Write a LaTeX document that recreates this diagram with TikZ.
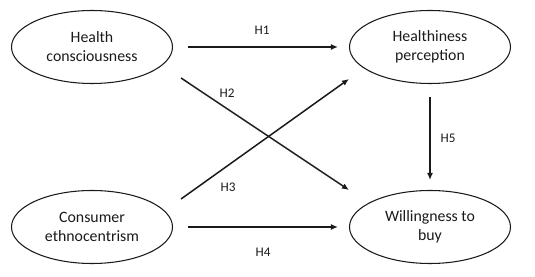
\documentclass[tikz,border=0pt]{standalone}
\usepackage{fontspec}
\setmainfont{Carlito}
\usetikzlibrary{shapes.geometric,arrows.meta}
\definecolor{ink}{HTML}{1A1A1A}
\tikzset{
  construct/.style={draw=ink, line width=.6pt, ellipse, minimum width=3.22cm, minimum height=1.46cm, inner sep=0pt, align=center, font=\fontsize{9}{10.8}\selectfont, text=ink},
  hyp/.style      ={draw=ink, line width=.85pt, -{Latex[length=1.4mm,width=1.2mm]}},
  hlbl/.style     ={font=\fontsize{7.5}{9}\selectfont, text=ink, inner sep=0pt},
}
\begin{document}
\begin{tikzpicture}
    \useasboundingbox (0,0) rectangle (10.7,5.54);
    % constructs
    \node[construct] (hc) at (1.84,4.6) {Health\\consciousness};
    \node[construct] (hp) at (8.6,4.6)  {Healthiness\\perception};
    \node[construct] (ce) at (1.84,1.0) {Consumer\\ethnocentrism};
    \node[construct] (wb) at (8.6,1.0)  {Willingness to\\buy};
    % hypotheses
    \draw[hyp,shorten <=3mm,shorten >=2.2mm] (hc) -- (hp);
    \draw[hyp] ([xshift=1.6mm,yshift=-6.2mm]hc.east) -- ([yshift=7.4mm]wb.west);
    \draw[hyp] ([xshift=1.6mm,yshift=5.6mm]ce.east) -- ([yshift=-6.4mm]hp.west);
    \draw[hyp,shorten <=3mm,shorten >=2.2mm] (ce) -- (wb);
    \draw[hyp,shorten <=2.6mm,shorten >=2mm] (hp) -- (wb);
    \node[hlbl] (h1) at (5.24,4.94) {H1};
    \node[hlbl] (h2) at (4.54,3.68) {H2};
    \node[hlbl] (h3) at (4.56,1.80) {H3};
    \node[hlbl] (h4) at (5.26,0.50) {H4};
    \node[hlbl] (h5) at (8.96,2.78) {H5};
\end{tikzpicture}
\end{document}
